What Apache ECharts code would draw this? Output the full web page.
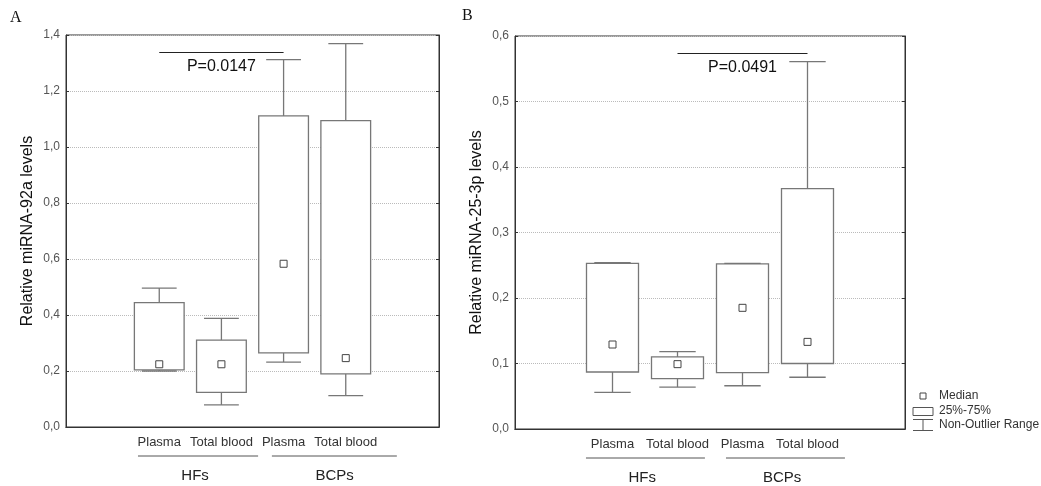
<!DOCTYPE html>
<html>
<head>
<meta charset="utf-8">
<script src="https://cdn.jsdelivr.net/npm/echarts@6/dist/echarts.min.js"></script>
<style>
html, body { margin: 0; padding: 0; background: #fff; }
#chart { width: 1041px; height: 486px; }
</style>
</head>
<body>
<div id="chart"></div>
<script>
// categories (first and last are empty slots, as in the original figure)
var categories = ['', 'Plasma', 'Total blood', 'Plasma', 'Total blood', ''];
var slots = [1, 2, 3, 4];

// panel A - miRNA-92a
var minA = [0.200, 0.079, 0.232, 0.112];
var q1A  = [0.204, 0.124, 0.265, 0.190];
var medA = [0.224, 0.224, 0.583, 0.246];
var q3A  = [0.444, 0.310, 1.111, 1.094];
var maxA = [0.496, 0.388, 1.312, 1.369];

// panel B - miRNA-25-3p
var minB = [0.056, 0.064, 0.066, 0.079];
var q1B  = [0.087, 0.077, 0.086, 0.100];
var medB = [0.129, 0.099, 0.185, 0.133];
var q3B  = [0.253, 0.110, 0.252, 0.367];
var maxB = [0.254, 0.118, 0.253, 0.561];

// significance brackets: [from slot, to slot, level, text]
var bracketA = [1, 3, 1.338, 'P=0.0147'];
var bracketB = [2, 4, 0.573, 'P=0.0491'];

var groups = ['HFs', 'BCPs'];

var FONT = 'Liberation Sans';
var gridA = {left: 66, top: 35, width: 373, height: 392};
var gridB = {left: 515, top: 36, width: 390, height: 393};

function commaFmt(v) {
    return v.toFixed(1).replace('.', ',');
}

function boxRows(mn, q1, q3, mx) {
    return slots.map(function (s, i) {
        return [s, mn[i], q1[i], q3[i], mx[i]];
    });
}

function medRows(md) {
    return slots.map(function (s, i) { return [s, md[i]]; });
}

function renderBox(params, api) {
    var x = api.value(0);
    var pMin = api.coord([x, api.value(1)]);
    var pQ1 = api.coord([x, api.value(2)]);
    var pQ3 = api.coord([x, api.value(3)]);
    var pMax = api.coord([x, api.value(4)]);
    var w = api.size([1, 0])[0];
    var bw = w * 0.8, cw = w * 0.56;
    var ls = {stroke: '#777', lineWidth: 1.3, fill: null};
    return {
        type: 'group',
        children: [
            {type: 'line', shape: {x1: pMax[0], y1: pMax[1], x2: pQ3[0], y2: pQ3[1]}, style: ls},
            {type: 'line', shape: {x1: pMin[0], y1: pMin[1], x2: pQ1[0], y2: pQ1[1]}, style: ls},
            {type: 'line', shape: {x1: pMax[0] - cw / 2, y1: pMax[1], x2: pMax[0] + cw / 2, y2: pMax[1]}, style: ls},
            {type: 'line', shape: {x1: pMin[0] - cw / 2, y1: pMin[1], x2: pMin[0] + cw / 2, y2: pMin[1]}, style: ls},
            {type: 'rect', shape: {x: pQ3[0] - bw / 2, y: pQ3[1], width: bw, height: pQ1[1] - pQ3[1]},
             style: {fill: '#fff', stroke: '#777', lineWidth: 1.3}}
        ]
    };
}

function xAxesFor(gi) {
    return [
        {
            gridIndex: gi, type: 'category', data: categories, position: 'bottom',
            axisLine: {lineStyle: {color: '#333'}},
            axisTick: {inside: true, length: 3, alignWithLabel: true, lineStyle: {color: '#333'}},
            axisLabel: {interval: 0, margin: 9, fontFamily: FONT, fontSize: 13, color: '#333'},
            splitLine: {show: false}
        },
        {
            gridIndex: gi, type: 'category', data: categories, position: 'top',
            axisLine: {lineStyle: {color: '#333'}},
            axisTick: {inside: true, length: 3, alignWithLabel: true, lineStyle: {color: '#333'}},
            axisLabel: {show: false},
            splitLine: {show: false}
        }
    ];
}

function yAxesFor(gi, max, step, name) {
    return [
        {
            gridIndex: gi, type: 'value', min: 0, max: max, interval: step, position: 'left',
            name: name, nameLocation: 'middle', nameGap: 30,
            nameTextStyle: {fontFamily: FONT, fontSize: 16, color: '#111'},
            axisLine: {show: true, lineStyle: {color: '#333'}},
            axisTick: {show: true, inside: true, length: 3, lineStyle: {color: '#333'}},
            axisLabel: {formatter: commaFmt, fontFamily: FONT, fontSize: 12, color: '#555', margin: 6},
            splitLine: {show: true, lineStyle: {color: '#bbb', type: 'dotted', width: 1}}
        },
        {
            gridIndex: gi, type: 'value', min: 0, max: max, interval: step, position: 'right',
            axisLine: {show: true, lineStyle: {color: '#333'}},
            axisTick: {show: true, inside: true, length: 3, lineStyle: {color: '#333'}},
            axisLabel: {show: false},
            splitLine: {show: false}
        }
    ];
}

function seriesFor(xi, yi, mn, q1, md, q3, mx, br) {
    return [
        {
            type: 'custom', xAxisIndex: xi, yAxisIndex: yi,
            renderItem: renderBox,
            encode: {x: 0, y: [1, 2, 3, 4]},
            data: boxRows(mn, q1, q3, mx),
            z: 2,
            markLine: {
                silent: true, symbol: 'none',
                lineStyle: {color: '#222', width: 1, type: 'solid'},
                label: {
                    show: true, position: 'insideMiddleBottom', distance: 6,
                    formatter: br[3], fontFamily: FONT, fontSize: 16, color: '#111'
                },
                data: [[{coord: [br[0], br[2]]}, {coord: [br[1], br[2]]}]]
            }
        },
        {
            type: 'scatter', xAxisIndex: xi, yAxisIndex: yi,
            symbol: 'rect', symbolSize: 7,
            itemStyle: {color: '#fff', borderColor: '#444', borderWidth: 1, opacity: 1},
            data: medRows(md),
            z: 3
        }
    ];
}

// group labels, underlines, panel letters and legend drawn as graphics
function groupGraphics(g, spans, centers) {
    var out = [];
    var lineY = g.top + g.height + 29;
    spans.forEach(function (sp) {
        out.push({
            type: 'line',
            shape: {x1: g.left + sp[0] * g.width, y1: lineY, x2: g.left + sp[1] * g.width, y2: lineY},
            style: {stroke: '#555', lineWidth: 1}
        });
    });
    centers.forEach(function (c, i) {
        out.push({
            type: 'text', x: g.left + c * g.width, y: g.top + g.height + 49,
            style: {text: groups[i], font: '15px ' + FONT, fill: '#222', align: 'center', verticalAlign: 'middle'}
        });
    });
    return out;
}

var graphics = []
    .concat(groupGraphics(gridA, [[0.193, 0.515], [0.552, 0.887]], [0.346, 0.72]))
    .concat(groupGraphics(gridB, [[0.182, 0.487], [0.541, 0.846]], [0.326, 0.685]))
    .concat([
        {type: 'text', x: 10, y: 18, style: {text: 'A', font: '16px "Liberation Serif"', fill: '#111', verticalAlign: 'middle'}},
        {type: 'text', x: 462, y: 16, style: {text: 'B', font: '16px "Liberation Serif"', fill: '#111', verticalAlign: 'middle'}},
        // legend
        {type: 'rect', shape: {x: 920, y: 393, width: 6, height: 6}, style: {fill: '#fff', stroke: '#444', lineWidth: 1}},
        {type: 'text', x: 939, y: 396, style: {text: 'Median', font: '12px ' + FONT, fill: '#333', verticalAlign: 'middle'}},
        {type: 'rect', shape: {x: 913, y: 407.5, width: 20, height: 8}, style: {fill: '#fff', stroke: '#555', lineWidth: 1}},
        {type: 'text', x: 939, y: 411, style: {text: '25%-75%', font: '12px ' + FONT, fill: '#333', verticalAlign: 'middle'}},
        {type: 'line', shape: {x1: 913, y1: 419.5, x2: 933, y2: 419.5}, style: {stroke: '#555', lineWidth: 1}},
        {type: 'line', shape: {x1: 923, y1: 419.5, x2: 923, y2: 430.5}, style: {stroke: '#555', lineWidth: 1}},
        {type: 'line', shape: {x1: 913, y1: 430.5, x2: 933, y2: 430.5}, style: {stroke: '#555', lineWidth: 1}},
        {type: 'text', x: 939, y: 425, style: {text: 'Non-Outlier Range', font: '12px ' + FONT, fill: '#333', verticalAlign: 'middle'}}
    ]);

var myChart = echarts.init(document.getElementById('chart'), null, {renderer: 'canvas'});
myChart.setOption({
    animation: false,
    backgroundColor: '#fff',
    grid: [
        Object.assign({show: true, borderColor: '#333', borderWidth: 1, backgroundColor: 'transparent'}, gridA),
        Object.assign({show: true, borderColor: '#333', borderWidth: 1, backgroundColor: 'transparent'}, gridB)
    ],
    xAxis: xAxesFor(0).concat(xAxesFor(1)),
    yAxis: yAxesFor(0, 1.4, 0.2, 'Relative miRNA-92a levels')
        .concat(yAxesFor(1, 0.6, 0.1, 'Relative miRNA-25-3p levels')),
    series: seriesFor(0, 0, minA, q1A, medA, q3A, maxA, bracketA)
        .concat(seriesFor(2, 2, minB, q1B, medB, q3B, maxB, bracketB)),
    graphic: graphics
});
</script>
</body>
</html>
